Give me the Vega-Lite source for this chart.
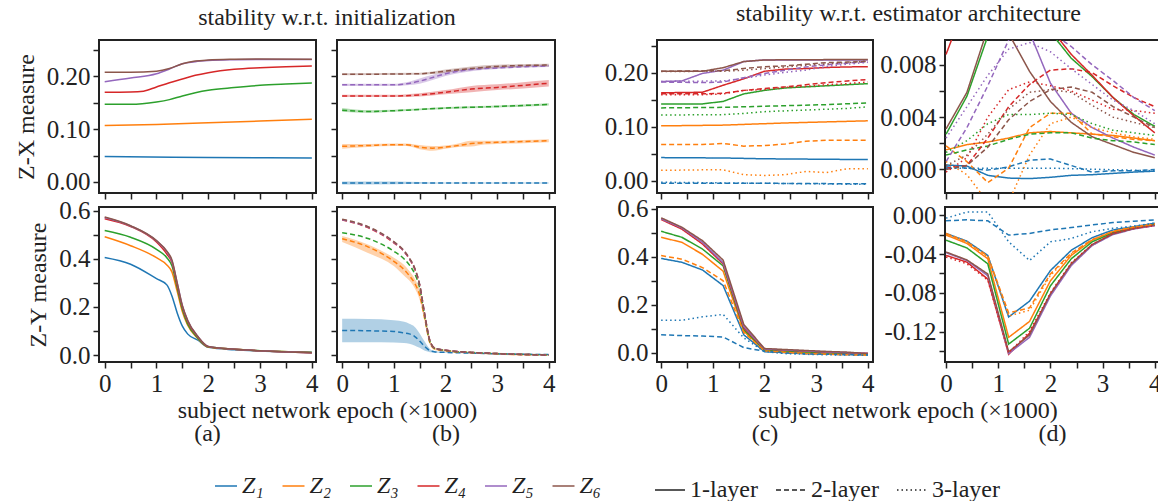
{
 "$schema": "https://vega.github.io/schema/vega-lite/v6.json",
 "padding": {"left": 13, "top": 0, "right": 0, "bottom": 0},
 "background": "white",
 "config": {
  "font": "Liberation Serif",
  "view": {"stroke": "#222", "strokeWidth": 2},
  "axis": {"labelFont": "Liberation Serif", "labelFontSize": 25, "labelColor": "#222", "titleFont": "Liberation Serif", "titleFontSize": 24, "titleFontWeight": "normal", "titleColor": "#222", "domain": false, "grid": false, "tickColor": "#222", "tickSize": 6, "tickWidth": 1.5, "labelPadding": 3, "labelFlush": false, "labelOverlap": false},
  "title": {"font": "Liberation Serif", "fontSize": 24, "fontWeight": "normal", "color": "#222"},
  "legend": {"labelFont": "Liberation Serif", "labelFontSize": 24, "labelColor": "#222"},
  "line": {"strokeWidth": 1.5}
 },
 "datasets": {
  "a1": [
   {"z":"Z₁","x":0,"y":0.048},{"z":"Z₁","x":2,"y":0.0465},{"z":"Z₁","x":4,"y":0.0455},
   {"z":"Z₂","x":0,"y":0.107},{"z":"Z₂","x":1,"y":0.109},{"z":"Z₂","x":2,"y":0.112},{"z":"Z₂","x":3,"y":0.1155},{"z":"Z₂","x":4,"y":0.119},
   {"z":"Z₃","x":0,"y":0.147},{"z":"Z₃","x":0.5,"y":0.147},{"z":"Z₃","x":1,"y":0.1515},{"z":"Z₃","x":1.25,"y":0.156},{"z":"Z₃","x":1.5,"y":0.163},{"z":"Z₃","x":1.75,"y":0.169},{"z":"Z₃","x":2,"y":0.1737},{"z":"Z₃","x":2.5,"y":0.1788},{"z":"Z₃","x":3,"y":0.183},{"z":"Z₃","x":3.5,"y":0.1855},{"z":"Z₃","x":4,"y":0.1875},
   {"z":"Z₄","x":0,"y":0.17},{"z":"Z₄","x":0.5,"y":0.1705},{"z":"Z₄","x":0.75,"y":0.172},{"z":"Z₄","x":1,"y":0.18},{"z":"Z₄","x":1.25,"y":0.188},{"z":"Z₄","x":1.5,"y":0.195},{"z":"Z₄","x":1.75,"y":0.202},{"z":"Z₄","x":2,"y":0.207},{"z":"Z₄","x":2.5,"y":0.2135},{"z":"Z₄","x":3,"y":0.2165},{"z":"Z₄","x":3.5,"y":0.2185},{"z":"Z₄","x":4,"y":0.2197},
   {"z":"Z₅","x":0,"y":0.19},{"z":"Z₅","x":0.5,"y":0.197},{"z":"Z₅","x":1,"y":0.205},{"z":"Z₅","x":1.25,"y":0.214},{"z":"Z₅","x":1.5,"y":0.224},{"z":"Z₅","x":1.75,"y":0.228},{"z":"Z₅","x":2,"y":0.23},{"z":"Z₅","x":2.5,"y":0.2315},{"z":"Z₅","x":3,"y":0.232},{"z":"Z₅","x":4,"y":0.232},
   {"z":"Z₆","x":0,"y":0.208},{"z":"Z₆","x":0.5,"y":0.208},{"z":"Z₆","x":1,"y":0.21},{"z":"Z₆","x":1.25,"y":0.215},{"z":"Z₆","x":1.5,"y":0.224},{"z":"Z₆","x":1.75,"y":0.229},{"z":"Z₆","x":2,"y":0.231},{"z":"Z₆","x":2.5,"y":0.2325},{"z":"Z₆","x":3,"y":0.233},{"z":"Z₆","x":4,"y":0.2325}
  ],
  "a2": [
   {"z":"Z₁","x":0,"y":0.406},{"z":"Z₁","x":0.5,"y":0.378},{"z":"Z₁","x":1,"y":0.318},{"z":"Z₁","x":1.2,"y":0.292},{"z":"Z₁","x":1.3,"y":0.245},{"z":"Z₁","x":1.4,"y":0.175},{"z":"Z₁","x":1.5,"y":0.12},{"z":"Z₁","x":1.6,"y":0.088},{"z":"Z₁","x":1.8,"y":0.062},{"z":"Z₁","x":2,"y":0.032},{"z":"Z₁","x":2.5,"y":0.022},{"z":"Z₁","x":3,"y":0.017},{"z":"Z₁","x":4,"y":0.012},
   {"z":"Z₂","x":0,"y":0.492},{"z":"Z₂","x":0.5,"y":0.455},{"z":"Z₂","x":1,"y":0.405},{"z":"Z₂","x":1.2,"y":0.375},{"z":"Z₂","x":1.3,"y":0.345},{"z":"Z₂","x":1.4,"y":0.265},{"z":"Z₂","x":1.5,"y":0.18},{"z":"Z₂","x":1.6,"y":0.125},{"z":"Z₂","x":1.8,"y":0.068},{"z":"Z₂","x":2,"y":0.033},{"z":"Z₂","x":2.5,"y":0.024},{"z":"Z₂","x":3,"y":0.018},{"z":"Z₂","x":4,"y":0.011},
   {"z":"Z₃","x":0,"y":0.518},{"z":"Z₃","x":0.5,"y":0.49},{"z":"Z₃","x":1,"y":0.44},{"z":"Z₃","x":1.2,"y":0.405},{"z":"Z₃","x":1.3,"y":0.37},{"z":"Z₃","x":1.4,"y":0.28},{"z":"Z₃","x":1.5,"y":0.19},{"z":"Z₃","x":1.6,"y":0.13},{"z":"Z₃","x":1.8,"y":0.07},{"z":"Z₃","x":2,"y":0.034},{"z":"Z₃","x":2.5,"y":0.024},{"z":"Z₃","x":3,"y":0.018},{"z":"Z₃","x":4,"y":0.011},
   {"z":"Z₄","x":0,"y":0.567},{"z":"Z₄","x":0.5,"y":0.535},{"z":"Z₄","x":1,"y":0.47},{"z":"Z₄","x":1.2,"y":0.42},{"z":"Z₄","x":1.3,"y":0.385},{"z":"Z₄","x":1.4,"y":0.29},{"z":"Z₄","x":1.5,"y":0.2},{"z":"Z₄","x":1.6,"y":0.14},{"z":"Z₄","x":1.8,"y":0.075},{"z":"Z₄","x":2,"y":0.035},{"z":"Z₄","x":2.5,"y":0.024},{"z":"Z₄","x":3,"y":0.018},{"z":"Z₄","x":4,"y":0.01},
   {"z":"Z₅","x":0,"y":0.572},{"z":"Z₅","x":0.5,"y":0.537},{"z":"Z₅","x":1,"y":0.475},{"z":"Z₅","x":1.2,"y":0.43},{"z":"Z₅","x":1.3,"y":0.39},{"z":"Z₅","x":1.4,"y":0.3},{"z":"Z₅","x":1.5,"y":0.205},{"z":"Z₅","x":1.6,"y":0.145},{"z":"Z₅","x":1.8,"y":0.077},{"z":"Z₅","x":2,"y":0.036},{"z":"Z₅","x":2.5,"y":0.024},{"z":"Z₅","x":3,"y":0.018},{"z":"Z₅","x":4,"y":0.01},
   {"z":"Z₆","x":0,"y":0.574},{"z":"Z₆","x":0.5,"y":0.538},{"z":"Z₆","x":1,"y":0.476},{"z":"Z₆","x":1.2,"y":0.432},{"z":"Z₆","x":1.3,"y":0.395},{"z":"Z₆","x":1.4,"y":0.3},{"z":"Z₆","x":1.5,"y":0.205},{"z":"Z₆","x":1.6,"y":0.145},{"z":"Z₆","x":1.8,"y":0.077},{"z":"Z₆","x":2,"y":0.036},{"z":"Z₆","x":2.5,"y":0.024},{"z":"Z₆","x":3,"y":0.018},{"z":"Z₆","x":4,"y":0.01}
  ],
  "b1": [
   {"z":"Z₁","x":0,"y":-0.002,"lo":-0.005,"hi":0.001},{"z":"Z₁","x":1,"y":-0.002,"lo":-0.0045,"hi":0.001},{"z":"Z₁","x":2,"y":-0.002,"lo":-0.003,"hi":-0.001},{"z":"Z₁","x":3,"y":-0.002,"lo":-0.003,"hi":-0.001},{"z":"Z₁","x":4,"y":-0.002,"lo":-0.003,"hi":-0.001},
   {"z":"Z₂","x":0,"y":0.0674,"lo":0.063,"hi":0.072},{"z":"Z₂","x":0.5,"y":0.069,"lo":0.066,"hi":0.072},{"z":"Z₂","x":1,"y":0.0706,"lo":0.068,"hi":0.073},{"z":"Z₂","x":1.25,"y":0.0705,"lo":0.068,"hi":0.073},{"z":"Z₂","x":1.5,"y":0.066,"lo":0.062,"hi":0.07},{"z":"Z₂","x":1.75,"y":0.064,"lo":0.059,"hi":0.068},{"z":"Z₂","x":2,"y":0.066,"lo":0.063,"hi":0.069},{"z":"Z₂","x":2.25,"y":0.069,"lo":0.066,"hi":0.073},{"z":"Z₂","x":2.5,"y":0.0726,"lo":0.067,"hi":0.078},{"z":"Z₂","x":2.75,"y":0.0745,"lo":0.071,"hi":0.078},{"z":"Z₂","x":3,"y":0.075,"lo":0.072,"hi":0.078},{"z":"Z₂","x":3.5,"y":0.0765,"lo":0.0735,"hi":0.0795},{"z":"Z₂","x":4,"y":0.078,"lo":0.075,"hi":0.081},
   {"z":"Z₃","x":0,"y":0.136,"lo":0.133,"hi":0.14},{"z":"Z₃","x":0.5,"y":0.1335,"lo":0.131,"hi":0.136},{"z":"Z₃","x":1,"y":0.135,"lo":0.133,"hi":0.137},{"z":"Z₃","x":2,"y":0.14,"lo":0.138,"hi":0.142},{"z":"Z₃","x":3,"y":0.143,"lo":0.141,"hi":0.145},{"z":"Z₃","x":4,"y":0.147,"lo":0.145,"hi":0.149},
   {"z":"Z₄","x":0,"y":0.163,"lo":0.161,"hi":0.165},{"z":"Z₄","x":1,"y":0.163,"lo":0.161,"hi":0.165},{"z":"Z₄","x":1.5,"y":0.165,"lo":0.162,"hi":0.168},{"z":"Z₄","x":2,"y":0.17,"lo":0.166,"hi":0.174},{"z":"Z₄","x":2.5,"y":0.176,"lo":0.17,"hi":0.182},{"z":"Z₄","x":3,"y":0.179,"lo":0.174,"hi":0.185},{"z":"Z₄","x":3.5,"y":0.183,"lo":0.177,"hi":0.189},{"z":"Z₄","x":4,"y":0.187,"lo":0.181,"hi":0.193},
   {"z":"Z₅","x":0,"y":0.184,"lo":0.182,"hi":0.186},{"z":"Z₅","x":1,"y":0.184,"lo":0.182,"hi":0.186},{"z":"Z₅","x":1.25,"y":0.186,"lo":0.183,"hi":0.189},{"z":"Z₅","x":1.5,"y":0.191,"lo":0.186,"hi":0.196},{"z":"Z₅","x":1.75,"y":0.198,"lo":0.193,"hi":0.203},{"z":"Z₅","x":2,"y":0.205,"lo":0.201,"hi":0.209},{"z":"Z₅","x":2.5,"y":0.213,"lo":0.21,"hi":0.216},{"z":"Z₅","x":3,"y":0.216,"lo":0.214,"hi":0.219},{"z":"Z₅","x":4,"y":0.22,"lo":0.218,"hi":0.222},
   {"z":"Z₆","x":0,"y":0.204,"lo":0.202,"hi":0.206},{"z":"Z₆","x":1.5,"y":0.205,"lo":0.203,"hi":0.207},{"z":"Z₆","x":2,"y":0.21,"lo":0.207,"hi":0.213},{"z":"Z₆","x":2.5,"y":0.215,"lo":0.212,"hi":0.219},{"z":"Z₆","x":3,"y":0.219,"lo":0.216,"hi":0.222},{"z":"Z₆","x":4,"y":0.2215,"lo":0.219,"hi":0.224}
  ],
  "b2": [
   {"z":"Z₁","x":0,"y":0.1025,"lo":0.053,"hi":0.151},{"z":"Z₁","x":0.5,"y":0.101,"lo":0.053,"hi":0.15},{"z":"Z₁","x":1,"y":0.098,"lo":0.052,"hi":0.145},{"z":"Z₁","x":1.2,"y":0.092,"lo":0.05,"hi":0.138},{"z":"Z₁","x":1.3,"y":0.088,"lo":0.047,"hi":0.13},{"z":"Z₁","x":1.4,"y":0.078,"lo":0.04,"hi":0.118},{"z":"Z₁","x":1.5,"y":0.058,"lo":0.03,"hi":0.09},{"z":"Z₁","x":1.6,"y":0.035,"lo":0.018,"hi":0.055},{"z":"Z₁","x":1.7,"y":0.018,"lo":0.012,"hi":0.025},{"z":"Z₁","x":1.8,"y":0.013,"lo":0.01,"hi":0.016},{"z":"Z₁","x":2,"y":0.011,"lo":0.009,"hi":0.013},{"z":"Z₁","x":2.5,"y":0.008,"lo":0.006,"hi":0.01},{"z":"Z₁","x":3,"y":0.005,"lo":0.003,"hi":0.007},{"z":"Z₁","x":4,"y":0.002,"lo":0,"hi":0.004},
   {"z":"Z₂","x":0,"y":0.484,"lo":0.47,"hi":0.495},{"z":"Z₂","x":0.5,"y":0.45,"lo":0.425,"hi":0.46},{"z":"Z₂","x":1,"y":0.39,"lo":0.37,"hi":0.405},{"z":"Z₂","x":1.2,"y":0.355,"lo":0.33,"hi":0.375},{"z":"Z₂","x":1.3,"y":0.33,"lo":0.31,"hi":0.35},{"z":"Z₂","x":1.4,"y":0.3,"lo":0.28,"hi":0.32},{"z":"Z₂","x":1.5,"y":0.25,"lo":0.23,"hi":0.27},{"z":"Z₂","x":1.6,"y":0.15,"lo":0.135,"hi":0.165},{"z":"Z₂","x":1.7,"y":0.05,"lo":0.042,"hi":0.058},{"z":"Z₂","x":1.8,"y":0.025,"lo":0.02,"hi":0.03},{"z":"Z₂","x":2,"y":0.018,"lo":0.014,"hi":0.022},{"z":"Z₂","x":2.5,"y":0.01,"lo":0.006,"hi":0.014},{"z":"Z₂","x":3,"y":0.005,"lo":0.001,"hi":0.009},{"z":"Z₂","x":4,"y":0,"lo":-0.004,"hi":0.004},
   {"z":"Z₃","x":0,"y":0.509},{"z":"Z₃","x":0.5,"y":0.485},{"z":"Z₃","x":1,"y":0.432},{"z":"Z₃","x":1.2,"y":0.4},{"z":"Z₃","x":1.3,"y":0.375},{"z":"Z₃","x":1.4,"y":0.34},{"z":"Z₃","x":1.5,"y":0.28},{"z":"Z₃","x":1.6,"y":0.16},{"z":"Z₃","x":1.7,"y":0.055},{"z":"Z₃","x":1.8,"y":0.027},{"z":"Z₃","x":2,"y":0.019},{"z":"Z₃","x":2.5,"y":0.011},{"z":"Z₃","x":3,"y":0.006},{"z":"Z₃","x":4,"y":0},
   {"z":"Z₄","x":0,"y":0.562},{"z":"Z₄","x":0.5,"y":0.53},{"z":"Z₄","x":1,"y":0.467},{"z":"Z₄","x":1.2,"y":0.43},{"z":"Z₄","x":1.3,"y":0.4},{"z":"Z₄","x":1.4,"y":0.36},{"z":"Z₄","x":1.5,"y":0.29},{"z":"Z₄","x":1.6,"y":0.165},{"z":"Z₄","x":1.7,"y":0.058},{"z":"Z₄","x":1.8,"y":0.028},{"z":"Z₄","x":2,"y":0.02},{"z":"Z₄","x":2.5,"y":0.011},{"z":"Z₄","x":3,"y":0.006},{"z":"Z₄","x":4,"y":0},
   {"z":"Z₅","x":0,"y":0.563},{"z":"Z₅","x":0.5,"y":0.532},{"z":"Z₅","x":1,"y":0.47},{"z":"Z₅","x":1.2,"y":0.432},{"z":"Z₅","x":1.3,"y":0.402},{"z":"Z₅","x":1.4,"y":0.362},{"z":"Z₅","x":1.5,"y":0.292},{"z":"Z₅","x":1.6,"y":0.166},{"z":"Z₅","x":1.7,"y":0.058},{"z":"Z₅","x":1.8,"y":0.028},{"z":"Z₅","x":2,"y":0.02},{"z":"Z₅","x":2.5,"y":0.011},{"z":"Z₅","x":3,"y":0.006},{"z":"Z₅","x":4,"y":0},
   {"z":"Z₆","x":0,"y":0.565},{"z":"Z₆","x":0.5,"y":0.534},{"z":"Z₆","x":1,"y":0.472},{"z":"Z₆","x":1.2,"y":0.434},{"z":"Z₆","x":1.3,"y":0.404},{"z":"Z₆","x":1.4,"y":0.364},{"z":"Z₆","x":1.5,"y":0.294},{"z":"Z₆","x":1.6,"y":0.167},{"z":"Z₆","x":1.7,"y":0.059},{"z":"Z₆","x":1.8,"y":0.028},{"z":"Z₆","x":2,"y":0.02},{"z":"Z₆","x":2.5,"y":0.011},{"z":"Z₆","x":3,"y":0.006},{"z":"Z₆","x":4,"y":0}
  ],
  "c1": [
   {"z":"Z₁","l":"1-layer","x":0,"y":0.0427},{"z":"Z₁","l":"1-layer","x":1.2,"y":0.042},{"z":"Z₁","l":"1-layer","x":2,"y":0.0405},{"z":"Z₁","l":"1-layer","x":4,"y":0.039},
   {"z":"Z₂","l":"1-layer","x":0,"y":0.1016},{"z":"Z₂","l":"1-layer","x":1.2,"y":0.103},{"z":"Z₂","l":"1-layer","x":2.4,"y":0.107},{"z":"Z₂","l":"1-layer","x":3.2,"y":0.109},{"z":"Z₂","l":"1-layer","x":4,"y":0.111},
   {"z":"Z₃","l":"1-layer","x":0,"y":0.1424},{"z":"Z₃","l":"1-layer","x":0.8,"y":0.1424},{"z":"Z₃","l":"1-layer","x":1.2,"y":0.147},{"z":"Z₃","l":"1-layer","x":1.6,"y":0.161},{"z":"Z₃","l":"1-layer","x":2,"y":0.1675},{"z":"Z₃","l":"1-layer","x":2.4,"y":0.172},{"z":"Z₃","l":"1-layer","x":2.8,"y":0.174},{"z":"Z₃","l":"1-layer","x":3.2,"y":0.176},{"z":"Z₃","l":"1-layer","x":3.6,"y":0.178},{"z":"Z₃","l":"1-layer","x":4,"y":0.18},
   {"z":"Z₄","l":"1-layer","x":0,"y":0.163},{"z":"Z₄","l":"1-layer","x":0.8,"y":0.164},{"z":"Z₄","l":"1-layer","x":1.2,"y":0.177},{"z":"Z₄","l":"1-layer","x":1.6,"y":0.189},{"z":"Z₄","l":"1-layer","x":2,"y":0.203},{"z":"Z₄","l":"1-layer","x":2.4,"y":0.207},{"z":"Z₄","l":"1-layer","x":2.8,"y":0.208},{"z":"Z₄","l":"1-layer","x":3.2,"y":0.21},{"z":"Z₄","l":"1-layer","x":3.6,"y":0.211},{"z":"Z₄","l":"1-layer","x":4,"y":0.2115},
   {"z":"Z₅","l":"1-layer","x":0,"y":0.184},{"z":"Z₅","l":"1-layer","x":0.4,"y":0.185},{"z":"Z₅","l":"1-layer","x":0.8,"y":0.199},{"z":"Z₅","l":"1-layer","x":1.2,"y":0.205},{"z":"Z₅","l":"1-layer","x":1.6,"y":0.221},{"z":"Z₅","l":"1-layer","x":2,"y":0.224},{"z":"Z₅","l":"1-layer","x":4,"y":0.224},
   {"z":"Z₆","l":"1-layer","x":0,"y":0.203},{"z":"Z₆","l":"1-layer","x":0.8,"y":0.203},{"z":"Z₆","l":"1-layer","x":1.2,"y":0.2096},{"z":"Z₆","l":"1-layer","x":1.6,"y":0.221},{"z":"Z₆","l":"1-layer","x":2,"y":0.224},{"z":"Z₆","l":"1-layer","x":4,"y":0.225},
   {"z":"Z₁","l":"2-layer","x":0,"y":-0.005},{"z":"Z₁","l":"2-layer","x":2,"y":-0.005},{"z":"Z₁","l":"2-layer","x":4,"y":-0.006},
   {"z":"Z₂","l":"2-layer","x":0,"y":0.067},{"z":"Z₂","l":"2-layer","x":0.8,"y":0.067},{"z":"Z₂","l":"2-layer","x":1.2,"y":0.069},{"z":"Z₂","l":"2-layer","x":1.6,"y":0.064},{"z":"Z₂","l":"2-layer","x":2,"y":0.065},{"z":"Z₂","l":"2-layer","x":2.4,"y":0.068},{"z":"Z₂","l":"2-layer","x":2.8,"y":0.073},{"z":"Z₂","l":"2-layer","x":3.2,"y":0.075},{"z":"Z₂","l":"2-layer","x":4,"y":0.075},
   {"z":"Z₃","l":"2-layer","x":0,"y":0.135},{"z":"Z₃","l":"2-layer","x":1.2,"y":0.136},{"z":"Z₃","l":"2-layer","x":2,"y":0.138},{"z":"Z₃","l":"2-layer","x":3.2,"y":0.141},{"z":"Z₃","l":"2-layer","x":4,"y":0.1443},
   {"z":"Z₄","l":"2-layer","x":0,"y":0.1612},{"z":"Z₄","l":"2-layer","x":0.8,"y":0.1612},{"z":"Z₄","l":"2-layer","x":1.2,"y":0.162},{"z":"Z₄","l":"2-layer","x":1.6,"y":0.1675},{"z":"Z₄","l":"2-layer","x":2,"y":0.171},{"z":"Z₄","l":"2-layer","x":2.4,"y":0.174},{"z":"Z₄","l":"2-layer","x":2.8,"y":0.178},{"z":"Z₄","l":"2-layer","x":3.2,"y":0.182},{"z":"Z₄","l":"2-layer","x":3.6,"y":0.185},{"z":"Z₄","l":"2-layer","x":4,"y":0.1876},
   {"z":"Z₅","l":"2-layer","x":0,"y":0.183},{"z":"Z₅","l":"2-layer","x":0.8,"y":0.182},{"z":"Z₅","l":"2-layer","x":1.2,"y":0.183},{"z":"Z₅","l":"2-layer","x":1.6,"y":0.191},{"z":"Z₅","l":"2-layer","x":2,"y":0.199},{"z":"Z₅","l":"2-layer","x":2.4,"y":0.205},{"z":"Z₅","l":"2-layer","x":2.8,"y":0.211},{"z":"Z₅","l":"2-layer","x":3.2,"y":0.215},{"z":"Z₅","l":"2-layer","x":3.6,"y":0.218},{"z":"Z₅","l":"2-layer","x":4,"y":0.2206},
   {"z":"Z₆","l":"2-layer","x":0,"y":0.203},{"z":"Z₆","l":"2-layer","x":1.2,"y":0.204},{"z":"Z₆","l":"2-layer","x":1.6,"y":0.208},{"z":"Z₆","l":"2-layer","x":2,"y":0.2115},{"z":"Z₆","l":"2-layer","x":2.4,"y":0.213},{"z":"Z₆","l":"2-layer","x":2.8,"y":0.216},{"z":"Z₆","l":"2-layer","x":3.2,"y":0.219},{"z":"Z₆","l":"2-layer","x":3.6,"y":0.22},{"z":"Z₆","l":"2-layer","x":4,"y":0.221},
   {"z":"Z₁","l":"3-layer","x":0,"y":-0.003},{"z":"Z₁","l":"3-layer","x":2,"y":-0.005},{"z":"Z₁","l":"3-layer","x":4,"y":-0.007},
   {"z":"Z₂","l":"3-layer","x":0,"y":0.019},{"z":"Z₂","l":"3-layer","x":0.8,"y":0.02},{"z":"Z₂","l":"3-layer","x":1.2,"y":0.02},{"z":"Z₂","l":"3-layer","x":1.6,"y":0.011},{"z":"Z₂","l":"3-layer","x":2,"y":0.0095},{"z":"Z₂","l":"3-layer","x":2.4,"y":0.011},{"z":"Z₂","l":"3-layer","x":2.8,"y":0.017},{"z":"Z₂","l":"3-layer","x":3.2,"y":0.015},{"z":"Z₂","l":"3-layer","x":3.6,"y":0.022},{"z":"Z₂","l":"3-layer","x":4,"y":0.022},
   {"z":"Z₃","l":"3-layer","x":0,"y":0.1217},{"z":"Z₃","l":"3-layer","x":1.2,"y":0.1225},{"z":"Z₃","l":"3-layer","x":1.6,"y":0.1248},{"z":"Z₃","l":"3-layer","x":2,"y":0.128},{"z":"Z₃","l":"3-layer","x":2.8,"y":0.131},{"z":"Z₃","l":"3-layer","x":3.6,"y":0.134},{"z":"Z₃","l":"3-layer","x":4,"y":0.137},
   {"z":"Z₄","l":"3-layer","x":0,"y":0.1594},{"z":"Z₄","l":"3-layer","x":0.8,"y":0.1594},{"z":"Z₄","l":"3-layer","x":1.2,"y":0.161},{"z":"Z₄","l":"3-layer","x":1.6,"y":0.1675},{"z":"Z₄","l":"3-layer","x":2,"y":0.169},{"z":"Z₄","l":"3-layer","x":2.4,"y":0.173},{"z":"Z₄","l":"3-layer","x":2.8,"y":0.175},{"z":"Z₄","l":"3-layer","x":3.2,"y":0.178},{"z":"Z₄","l":"3-layer","x":3.6,"y":0.18},{"z":"Z₄","l":"3-layer","x":4,"y":0.183},
   {"z":"Z₅","l":"3-layer","x":0,"y":0.184},{"z":"Z₅","l":"3-layer","x":1.2,"y":0.185},{"z":"Z₅","l":"3-layer","x":1.6,"y":0.19},{"z":"Z₅","l":"3-layer","x":2,"y":0.196},{"z":"Z₅","l":"3-layer","x":2.4,"y":0.201},{"z":"Z₅","l":"3-layer","x":2.8,"y":0.205},{"z":"Z₅","l":"3-layer","x":3.2,"y":0.212},{"z":"Z₅","l":"3-layer","x":3.6,"y":0.216},{"z":"Z₅","l":"3-layer","x":4,"y":0.2196},
   {"z":"Z₆","l":"3-layer","x":0,"y":0.2025},{"z":"Z₆","l":"3-layer","x":1.2,"y":0.203},{"z":"Z₆","l":"3-layer","x":1.6,"y":0.205},{"z":"Z₆","l":"3-layer","x":2,"y":0.208},{"z":"Z₆","l":"3-layer","x":2.8,"y":0.214},{"z":"Z₆","l":"3-layer","x":3.6,"y":0.219},{"z":"Z₆","l":"3-layer","x":4,"y":0.222}
  ],
  "c2": [
   {"z":"Z₁","l":"1-layer","x":0,"y":0.393},{"z":"Z₁","l":"1-layer","x":0.4,"y":0.377},{"z":"Z₁","l":"1-layer","x":0.8,"y":0.345},{"z":"Z₁","l":"1-layer","x":1.2,"y":0.28},{"z":"Z₁","l":"1-layer","x":1.6,"y":0.075},{"z":"Z₁","l":"1-layer","x":2,"y":0.005},{"z":"Z₁","l":"1-layer","x":2.4,"y":0.001},{"z":"Z₁","l":"1-layer","x":2.8,"y":-0.003},{"z":"Z₁","l":"1-layer","x":3.2,"y":-0.005},{"z":"Z₁","l":"1-layer","x":3.6,"y":-0.007},{"z":"Z₁","l":"1-layer","x":4,"y":-0.008},
   {"z":"Z₂","l":"1-layer","x":0,"y":0.481},{"z":"Z₂","l":"1-layer","x":0.4,"y":0.46},{"z":"Z₂","l":"1-layer","x":0.8,"y":0.41},{"z":"Z₂","l":"1-layer","x":1.2,"y":0.34},{"z":"Z₂","l":"1-layer","x":1.6,"y":0.09},{"z":"Z₂","l":"1-layer","x":2,"y":0.01},{"z":"Z₂","l":"1-layer","x":2.4,"y":0.005},{"z":"Z₂","l":"1-layer","x":2.8,"y":0},{"z":"Z₂","l":"1-layer","x":3.2,"y":-0.002},{"z":"Z₂","l":"1-layer","x":3.6,"y":-0.004},{"z":"Z₂","l":"1-layer","x":4,"y":-0.005},
   {"z":"Z₃","l":"1-layer","x":0,"y":0.506},{"z":"Z₃","l":"1-layer","x":0.4,"y":0.481},{"z":"Z₃","l":"1-layer","x":0.8,"y":0.432},{"z":"Z₃","l":"1-layer","x":1.2,"y":0.362},{"z":"Z₃","l":"1-layer","x":1.6,"y":0.097},{"z":"Z₃","l":"1-layer","x":2,"y":0.012},{"z":"Z₃","l":"1-layer","x":2.4,"y":0.008},{"z":"Z₃","l":"1-layer","x":2.8,"y":0.004},{"z":"Z₃","l":"1-layer","x":3.2,"y":0},{"z":"Z₃","l":"1-layer","x":3.6,"y":-0.002},{"z":"Z₃","l":"1-layer","x":4,"y":-0.004},
   {"z":"Z₄","l":"1-layer","x":0,"y":0.555},{"z":"Z₄","l":"1-layer","x":0.4,"y":0.515},{"z":"Z₄","l":"1-layer","x":0.8,"y":0.453},{"z":"Z₄","l":"1-layer","x":1.2,"y":0.37},{"z":"Z₄","l":"1-layer","x":1.6,"y":0.104},{"z":"Z₄","l":"1-layer","x":2,"y":0.016},{"z":"Z₄","l":"1-layer","x":2.4,"y":0.011},{"z":"Z₄","l":"1-layer","x":2.8,"y":0.007},{"z":"Z₄","l":"1-layer","x":3.2,"y":0.003},{"z":"Z₄","l":"1-layer","x":3.6,"y":0},{"z":"Z₄","l":"1-layer","x":4,"y":-0.002},
   {"z":"Z₅","l":"1-layer","x":0,"y":0.558},{"z":"Z₅","l":"1-layer","x":0.4,"y":0.52},{"z":"Z₅","l":"1-layer","x":0.8,"y":0.46},{"z":"Z₅","l":"1-layer","x":1.2,"y":0.375},{"z":"Z₅","l":"1-layer","x":1.6,"y":0.11},{"z":"Z₅","l":"1-layer","x":2,"y":0.016},{"z":"Z₅","l":"1-layer","x":2.4,"y":0.012},{"z":"Z₅","l":"1-layer","x":2.8,"y":0.008},{"z":"Z₅","l":"1-layer","x":3.2,"y":0.004},{"z":"Z₅","l":"1-layer","x":3.6,"y":0.001},{"z":"Z₅","l":"1-layer","x":4,"y":-0.002},
   {"z":"Z₆","l":"1-layer","x":0,"y":0.562},{"z":"Z₆","l":"1-layer","x":0.4,"y":0.523},{"z":"Z₆","l":"1-layer","x":0.8,"y":0.467},{"z":"Z₆","l":"1-layer","x":1.2,"y":0.386},{"z":"Z₆","l":"1-layer","x":1.6,"y":0.118},{"z":"Z₆","l":"1-layer","x":2,"y":0.018},{"z":"Z₆","l":"1-layer","x":2.4,"y":0.014},{"z":"Z₆","l":"1-layer","x":2.8,"y":0.01},{"z":"Z₆","l":"1-layer","x":3.2,"y":0.006},{"z":"Z₆","l":"1-layer","x":3.6,"y":0.003},{"z":"Z₆","l":"1-layer","x":4,"y":-0.003},
   {"z":"Z₁","l":"2-layer","x":0,"y":0.075},{"z":"Z₁","l":"2-layer","x":0.4,"y":0.072},{"z":"Z₁","l":"2-layer","x":0.8,"y":0.07},{"z":"Z₁","l":"2-layer","x":1.2,"y":0.066},{"z":"Z₁","l":"2-layer","x":1.6,"y":0.022},{"z":"Z₁","l":"2-layer","x":2,"y":0.007},{"z":"Z₁","l":"2-layer","x":2.4,"y":0},{"z":"Z₁","l":"2-layer","x":2.8,"y":-0.004},{"z":"Z₁","l":"2-layer","x":3.2,"y":-0.006},{"z":"Z₁","l":"2-layer","x":3.6,"y":-0.007},{"z":"Z₁","l":"2-layer","x":4,"y":-0.008},
   {"z":"Z₂","l":"2-layer","x":0,"y":0.405},{"z":"Z₂","l":"2-layer","x":0.4,"y":0.39},{"z":"Z₂","l":"2-layer","x":0.8,"y":0.355},{"z":"Z₂","l":"2-layer","x":1.2,"y":0.3},{"z":"Z₂","l":"2-layer","x":1.6,"y":0.085},{"z":"Z₂","l":"2-layer","x":2,"y":0.008},{"z":"Z₂","l":"2-layer","x":2.4,"y":0.002},{"z":"Z₂","l":"2-layer","x":2.8,"y":-0.003},{"z":"Z₂","l":"2-layer","x":3.2,"y":-0.006},{"z":"Z₂","l":"2-layer","x":3.6,"y":-0.008},{"z":"Z₂","l":"2-layer","x":4,"y":-0.01},
   {"z":"Z₁","l":"3-layer","x":0,"y":0.136},{"z":"Z₁","l":"3-layer","x":0.4,"y":0.136},{"z":"Z₁","l":"3-layer","x":0.8,"y":0.15},{"z":"Z₁","l":"3-layer","x":1.2,"y":0.16},{"z":"Z₁","l":"3-layer","x":1.6,"y":0.062},{"z":"Z₁","l":"3-layer","x":2,"y":0.005},{"z":"Z₁","l":"3-layer","x":2.4,"y":-0.003},{"z":"Z₁","l":"3-layer","x":2.8,"y":-0.006},{"z":"Z₁","l":"3-layer","x":3.2,"y":-0.008},{"z":"Z₁","l":"3-layer","x":3.6,"y":-0.009},{"z":"Z₁","l":"3-layer","x":4,"y":-0.01}
  ],
  "d1": [
   {"z":"Z₁","l":"1-layer","x":0,"y":0.00034},{"z":"Z₁","l":"1-layer","x":0.4,"y":0.00026},{"z":"Z₁","l":"1-layer","x":0.8,"y":-0.00045},{"z":"Z₁","l":"1-layer","x":1.2,"y":-0.00066},{"z":"Z₁","l":"1-layer","x":1.6,"y":-0.0007},{"z":"Z₁","l":"1-layer","x":2,"y":-0.0006},{"z":"Z₁","l":"1-layer","x":2.4,"y":-0.00045},{"z":"Z₁","l":"1-layer","x":2.8,"y":-0.0004},{"z":"Z₁","l":"1-layer","x":3.2,"y":-0.0003},{"z":"Z₁","l":"1-layer","x":3.6,"y":-0.0002},{"z":"Z₁","l":"1-layer","x":4,"y":-0.00013},
   {"z":"Z₂","l":"1-layer","x":0,"y":0.0015},{"z":"Z₂","l":"1-layer","x":0.4,"y":0.0019},{"z":"Z₂","l":"1-layer","x":0.8,"y":0.0021},{"z":"Z₂","l":"1-layer","x":1.2,"y":0.0024},{"z":"Z₂","l":"1-layer","x":1.6,"y":0.0028},{"z":"Z₂","l":"1-layer","x":2,"y":0.0029},{"z":"Z₂","l":"1-layer","x":2.4,"y":0.0028},{"z":"Z₂","l":"1-layer","x":2.8,"y":0.0027},{"z":"Z₂","l":"1-layer","x":3.2,"y":0.0026},{"z":"Z₂","l":"1-layer","x":3.6,"y":0.0024},{"z":"Z₂","l":"1-layer","x":4,"y":0.0022},
   {"z":"Z₃","l":"1-layer","x":0,"y":0.0027},{"z":"Z₃","l":"1-layer","x":0.4,"y":0.0056},{"z":"Z₃","l":"1-layer","x":0.8,"y":0.0102},{"z":"Z₃","l":"1-layer","x":1.2,"y":0.013},{"z":"Z₃","l":"1-layer","x":1.6,"y":0.0125},{"z":"Z₃","l":"1-layer","x":2,"y":0.0105},{"z":"Z₃","l":"1-layer","x":2.4,"y":0.0085},{"z":"Z₃","l":"1-layer","x":2.8,"y":0.0071},{"z":"Z₃","l":"1-layer","x":3.2,"y":0.0055},{"z":"Z₃","l":"1-layer","x":3.6,"y":0.0042},{"z":"Z₃","l":"1-layer","x":4,"y":0.0033},
   {"z":"Z₄","l":"1-layer","x":0,"y":0.0088},{"z":"Z₄","l":"1-layer","x":0.4,"y":0.013},{"z":"Z₄","l":"1-layer","x":0.8,"y":0.016},{"z":"Z₄","l":"1-layer","x":1.2,"y":0.016},{"z":"Z₄","l":"1-layer","x":1.6,"y":0.014},{"z":"Z₄","l":"1-layer","x":2,"y":0.0108},{"z":"Z₄","l":"1-layer","x":2.4,"y":0.0088},{"z":"Z₄","l":"1-layer","x":2.8,"y":0.0072},{"z":"Z₄","l":"1-layer","x":3.2,"y":0.0055},{"z":"Z₄","l":"1-layer","x":3.6,"y":0.0041},{"z":"Z₄","l":"1-layer","x":4,"y":0.0028},
   {"z":"Z₅","l":"1-layer","x":0,"y":0.0105},{"z":"Z₅","l":"1-layer","x":0.4,"y":0.014},{"z":"Z₅","l":"1-layer","x":0.8,"y":0.016},{"z":"Z₅","l":"1-layer","x":1.2,"y":0.015},{"z":"Z₅","l":"1-layer","x":1.6,"y":0.0105},{"z":"Z₅","l":"1-layer","x":2,"y":0.0066},{"z":"Z₅","l":"1-layer","x":2.4,"y":0.0043},{"z":"Z₅","l":"1-layer","x":2.8,"y":0.0032},{"z":"Z₅","l":"1-layer","x":3.2,"y":0.0024},{"z":"Z₅","l":"1-layer","x":3.6,"y":0.0017},{"z":"Z₅","l":"1-layer","x":4,"y":0.0011},
   {"z":"Z₆","l":"1-layer","x":0,"y":0.0031},{"z":"Z₆","l":"1-layer","x":0.4,"y":0.0059},{"z":"Z₆","l":"1-layer","x":0.8,"y":0.0108},{"z":"Z₆","l":"1-layer","x":1.2,"y":0.0104},{"z":"Z₆","l":"1-layer","x":1.6,"y":0.0075},{"z":"Z₆","l":"1-layer","x":2,"y":0.0052},{"z":"Z₆","l":"1-layer","x":2.4,"y":0.0036},{"z":"Z₆","l":"1-layer","x":2.8,"y":0.0025},{"z":"Z₆","l":"1-layer","x":3.2,"y":0.0019},{"z":"Z₆","l":"1-layer","x":3.6,"y":0.0013},{"z":"Z₆","l":"1-layer","x":4,"y":0.0009},
   {"z":"Z₁","l":"2-layer","x":0,"y":0.0002},{"z":"Z₁","l":"2-layer","x":0.4,"y":0.0001},{"z":"Z₁","l":"2-layer","x":0.8,"y":-0.00005},{"z":"Z₁","l":"2-layer","x":1.2,"y":0.0002},{"z":"Z₁","l":"2-layer","x":1.6,"y":0.0007},{"z":"Z₁","l":"2-layer","x":2,"y":0.0008},{"z":"Z₁","l":"2-layer","x":2.4,"y":0.0003},{"z":"Z₁","l":"2-layer","x":2.8,"y":-0.0002},{"z":"Z₁","l":"2-layer","x":3.2,"y":-0.0001},{"z":"Z₁","l":"2-layer","x":3.6,"y":-0.0001},{"z":"Z₁","l":"2-layer","x":4,"y":0},
   {"z":"Z₂","l":"2-layer","x":0,"y":0.0018},{"z":"Z₂","l":"2-layer","x":0.4,"y":0.0006},{"z":"Z₂","l":"2-layer","x":0.8,"y":-0.001},{"z":"Z₂","l":"2-layer","x":1.2,"y":0.0001},{"z":"Z₂","l":"2-layer","x":1.6,"y":0.0032},{"z":"Z₂","l":"2-layer","x":2,"y":0.0043},{"z":"Z₂","l":"2-layer","x":2.4,"y":0.0043},{"z":"Z₂","l":"2-layer","x":2.8,"y":0.0027},{"z":"Z₂","l":"2-layer","x":3.2,"y":0.0025},{"z":"Z₂","l":"2-layer","x":3.6,"y":0.0023},{"z":"Z₂","l":"2-layer","x":4,"y":0.0022},
   {"z":"Z₃","l":"2-layer","x":0,"y":0.0011},{"z":"Z₃","l":"2-layer","x":0.4,"y":0.0015},{"z":"Z₃","l":"2-layer","x":0.8,"y":0.0018},{"z":"Z₃","l":"2-layer","x":1.2,"y":0.0023},{"z":"Z₃","l":"2-layer","x":1.6,"y":0.0027},{"z":"Z₃","l":"2-layer","x":2,"y":0.0028},{"z":"Z₃","l":"2-layer","x":2.4,"y":0.0028},{"z":"Z₃","l":"2-layer","x":2.8,"y":0.0024},{"z":"Z₃","l":"2-layer","x":3.2,"y":0.0022},{"z":"Z₃","l":"2-layer","x":3.6,"y":0.0021},{"z":"Z₃","l":"2-layer","x":4,"y":0.0019},
   {"z":"Z₄","l":"2-layer","x":0,"y":0.0001},{"z":"Z₄","l":"2-layer","x":0.4,"y":0.0003},{"z":"Z₄","l":"2-layer","x":0.8,"y":0.0024},{"z":"Z₄","l":"2-layer","x":1.2,"y":0.0048},{"z":"Z₄","l":"2-layer","x":1.6,"y":0.0065},{"z":"Z₄","l":"2-layer","x":2,"y":0.0076},{"z":"Z₄","l":"2-layer","x":2.4,"y":0.0077},{"z":"Z₄","l":"2-layer","x":2.8,"y":0.0074},{"z":"Z₄","l":"2-layer","x":3.2,"y":0.0064},{"z":"Z₄","l":"2-layer","x":3.6,"y":0.0055},{"z":"Z₄","l":"2-layer","x":4,"y":0.0048},
   {"z":"Z₅","l":"2-layer","x":0,"y":0.0006},{"z":"Z₅","l":"2-layer","x":0.4,"y":0.0032},{"z":"Z₅","l":"2-layer","x":0.8,"y":0.0064},{"z":"Z₅","l":"2-layer","x":1.2,"y":0.0099},{"z":"Z₅","l":"2-layer","x":1.6,"y":0.011},{"z":"Z₅","l":"2-layer","x":2,"y":0.0105},{"z":"Z₅","l":"2-layer","x":2.4,"y":0.0094},{"z":"Z₅","l":"2-layer","x":2.8,"y":0.008},{"z":"Z₅","l":"2-layer","x":3.2,"y":0.0068},{"z":"Z₅","l":"2-layer","x":3.6,"y":0.0055},{"z":"Z₅","l":"2-layer","x":4,"y":0.0045},
   {"z":"Z₆","l":"2-layer","x":0,"y":0},{"z":"Z₆","l":"2-layer","x":0.4,"y":0.0003},{"z":"Z₆","l":"2-layer","x":0.8,"y":0.0017},{"z":"Z₆","l":"2-layer","x":1.2,"y":0.0038},{"z":"Z₆","l":"2-layer","x":1.6,"y":0.0052},{"z":"Z₆","l":"2-layer","x":2,"y":0.0061},{"z":"Z₆","l":"2-layer","x":2.4,"y":0.0063},{"z":"Z₆","l":"2-layer","x":2.8,"y":0.0059},{"z":"Z₆","l":"2-layer","x":3.2,"y":0.0048},{"z":"Z₆","l":"2-layer","x":3.6,"y":0.004},{"z":"Z₆","l":"2-layer","x":4,"y":0.0032},
   {"z":"Z₁","l":"3-layer","x":0,"y":0.0001},{"z":"Z₁","l":"3-layer","x":2,"y":0.0001},{"z":"Z₁","l":"3-layer","x":4,"y":-0.0001},
   {"z":"Z₂","l":"3-layer","x":0,"y":0.0006},{"z":"Z₂","l":"3-layer","x":0.4,"y":-0.0004},{"z":"Z₂","l":"3-layer","x":0.8,"y":-0.0025},{"z":"Z₂","l":"3-layer","x":1.2,"y":-0.0025},{"z":"Z₂","l":"3-layer","x":1.6,"y":0.0011},{"z":"Z₂","l":"3-layer","x":2,"y":0.0035},{"z":"Z₂","l":"3-layer","x":2.4,"y":0.004},{"z":"Z₂","l":"3-layer","x":2.8,"y":0.0032},{"z":"Z₂","l":"3-layer","x":3.2,"y":0.0028},{"z":"Z₂","l":"3-layer","x":3.6,"y":0.0025},{"z":"Z₂","l":"3-layer","x":4,"y":0.0023},
   {"z":"Z₃","l":"3-layer","x":0,"y":0.0013},{"z":"Z₃","l":"3-layer","x":0.4,"y":0.0022},{"z":"Z₃","l":"3-layer","x":0.8,"y":0.0035},{"z":"Z₃","l":"3-layer","x":1.2,"y":0.0042},{"z":"Z₃","l":"3-layer","x":1.6,"y":0.0042},{"z":"Z₃","l":"3-layer","x":2,"y":0.0043},{"z":"Z₃","l":"3-layer","x":2.4,"y":0.0042},{"z":"Z₃","l":"3-layer","x":2.8,"y":0.0035},{"z":"Z₃","l":"3-layer","x":3.2,"y":0.003},{"z":"Z₃","l":"3-layer","x":3.6,"y":0.0028},{"z":"Z₃","l":"3-layer","x":4,"y":0.0026},
   {"z":"Z₄","l":"3-layer","x":0,"y":-0.0002},{"z":"Z₄","l":"3-layer","x":0.4,"y":0.0009},{"z":"Z₄","l":"3-layer","x":0.8,"y":0.004},{"z":"Z₄","l":"3-layer","x":1.2,"y":0.0061},{"z":"Z₄","l":"3-layer","x":1.6,"y":0.0067},{"z":"Z₄","l":"3-layer","x":2,"y":0.0064},{"z":"Z₄","l":"3-layer","x":2.4,"y":0.006},{"z":"Z₄","l":"3-layer","x":2.8,"y":0.0053},{"z":"Z₄","l":"3-layer","x":3.2,"y":0.0046},{"z":"Z₄","l":"3-layer","x":3.6,"y":0.0045},{"z":"Z₄","l":"3-layer","x":4,"y":0.0043},
   {"z":"Z₅","l":"3-layer","x":0,"y":0.0024},{"z":"Z₅","l":"3-layer","x":0.4,"y":0.0048},{"z":"Z₅","l":"3-layer","x":0.8,"y":0.0072},{"z":"Z₅","l":"3-layer","x":1.2,"y":0.0092},{"z":"Z₅","l":"3-layer","x":1.6,"y":0.0097},{"z":"Z₅","l":"3-layer","x":2,"y":0.009},{"z":"Z₅","l":"3-layer","x":2.4,"y":0.0077},{"z":"Z₅","l":"3-layer","x":2.8,"y":0.0065},{"z":"Z₅","l":"3-layer","x":3.2,"y":0.0053},{"z":"Z₅","l":"3-layer","x":3.6,"y":0.0045},{"z":"Z₅","l":"3-layer","x":4,"y":0.0035},
   {"z":"Z₆","l":"3-layer","x":0,"y":0.0003},{"z":"Z₆","l":"3-layer","x":0.4,"y":0.0011},{"z":"Z₆","l":"3-layer","x":0.8,"y":0.0027},{"z":"Z₆","l":"3-layer","x":1.2,"y":0.0046},{"z":"Z₆","l":"3-layer","x":1.6,"y":0.0059},{"z":"Z₆","l":"3-layer","x":2,"y":0.0061},{"z":"Z₆","l":"3-layer","x":2.4,"y":0.0059},{"z":"Z₆","l":"3-layer","x":2.8,"y":0.0049},{"z":"Z₆","l":"3-layer","x":3.2,"y":0.004},{"z":"Z₆","l":"3-layer","x":3.6,"y":0.0036},{"z":"Z₆","l":"3-layer","x":4,"y":0.0032}
  ],
  "d2": [
   {"z":"Z₁","l":"1-layer","x":0,"y":-0.0186},{"z":"Z₁","l":"1-layer","x":0.4,"y":-0.0266},{"z":"Z₁","l":"1-layer","x":0.8,"y":-0.0413},{"z":"Z₁","l":"1-layer","x":1.2,"y":-0.105},{"z":"Z₁","l":"1-layer","x":1.6,"y":-0.0886},{"z":"Z₁","l":"1-layer","x":2,"y":-0.057},{"z":"Z₁","l":"1-layer","x":2.4,"y":-0.036},{"z":"Z₁","l":"1-layer","x":2.8,"y":-0.023},{"z":"Z₁","l":"1-layer","x":3.2,"y":-0.015},{"z":"Z₁","l":"1-layer","x":3.6,"y":-0.0116},{"z":"Z₁","l":"1-layer","x":4,"y":-0.008},
   {"z":"Z₂","l":"1-layer","x":0,"y":-0.0203},{"z":"Z₂","l":"1-layer","x":0.4,"y":-0.029},{"z":"Z₂","l":"1-layer","x":0.8,"y":-0.0448},{"z":"Z₂","l":"1-layer","x":1.2,"y":-0.126},{"z":"Z₂","l":"1-layer","x":1.6,"y":-0.1096},{"z":"Z₂","l":"1-layer","x":2,"y":-0.0676},{"z":"Z₂","l":"1-layer","x":2.4,"y":-0.0413},{"z":"Z₂","l":"1-layer","x":2.8,"y":-0.0256},{"z":"Z₂","l":"1-layer","x":3.2,"y":-0.0168},{"z":"Z₂","l":"1-layer","x":3.6,"y":-0.0125},{"z":"Z₂","l":"1-layer","x":4,"y":-0.0091},
   {"z":"Z₃","l":"1-layer","x":0,"y":-0.0256},{"z":"Z₃","l":"1-layer","x":0.4,"y":-0.0336},{"z":"Z₃","l":"1-layer","x":0.8,"y":-0.05},{"z":"Z₃","l":"1-layer","x":1.2,"y":-0.133},{"z":"Z₃","l":"1-layer","x":1.6,"y":-0.1166},{"z":"Z₃","l":"1-layer","x":2,"y":-0.0728},{"z":"Z₃","l":"1-layer","x":2.4,"y":-0.0448},{"z":"Z₃","l":"1-layer","x":2.8,"y":-0.0273},{"z":"Z₃","l":"1-layer","x":3.2,"y":-0.0179},{"z":"Z₃","l":"1-layer","x":3.6,"y":-0.013},{"z":"Z₃","l":"1-layer","x":4,"y":-0.0098},
   {"z":"Z₄","l":"1-layer","x":0,"y":-0.0413},{"z":"Z₄","l":"1-layer","x":0.4,"y":-0.0483},{"z":"Z₄","l":"1-layer","x":0.8,"y":-0.0658},{"z":"Z₄","l":"1-layer","x":1.2,"y":-0.1435},{"z":"Z₄","l":"1-layer","x":1.6,"y":-0.1218},{"z":"Z₄","l":"1-layer","x":2,"y":-0.0816},{"z":"Z₄","l":"1-layer","x":2.4,"y":-0.05},{"z":"Z₄","l":"1-layer","x":2.8,"y":-0.0308},{"z":"Z₄","l":"1-layer","x":3.2,"y":-0.0186},{"z":"Z₄","l":"1-layer","x":3.6,"y":-0.0135},{"z":"Z₄","l":"1-layer","x":4,"y":-0.0105},
   {"z":"Z₅","l":"1-layer","x":0,"y":-0.0385},{"z":"Z₅","l":"1-layer","x":0.4,"y":-0.0466},{"z":"Z₅","l":"1-layer","x":0.8,"y":-0.0623},{"z":"Z₅","l":"1-layer","x":1.2,"y":-0.1428},{"z":"Z₅","l":"1-layer","x":1.6,"y":-0.126},{"z":"Z₅","l":"1-layer","x":2,"y":-0.0833},{"z":"Z₅","l":"1-layer","x":2.4,"y":-0.0518},{"z":"Z₅","l":"1-layer","x":2.8,"y":-0.031},{"z":"Z₅","l":"1-layer","x":3.2,"y":-0.0197},{"z":"Z₅","l":"1-layer","x":3.6,"y":-0.014},{"z":"Z₅","l":"1-layer","x":4,"y":-0.0105},
   {"z":"Z₆","l":"1-layer","x":0,"y":-0.0378},{"z":"Z₆","l":"1-layer","x":0.4,"y":-0.046},{"z":"Z₆","l":"1-layer","x":0.8,"y":-0.0605},{"z":"Z₆","l":"1-layer","x":1.2,"y":-0.141},{"z":"Z₆","l":"1-layer","x":1.6,"y":-0.1236},{"z":"Z₆","l":"1-layer","x":2,"y":-0.081},{"z":"Z₆","l":"1-layer","x":2.4,"y":-0.05},{"z":"Z₆","l":"1-layer","x":2.8,"y":-0.03},{"z":"Z₆","l":"1-layer","x":3.2,"y":-0.019},{"z":"Z₆","l":"1-layer","x":3.6,"y":-0.0135},{"z":"Z₆","l":"1-layer","x":4,"y":-0.0098},
   {"z":"Z₁","l":"2-layer","x":0,"y":-0.0056},{"z":"Z₁","l":"2-layer","x":0.4,"y":-0.0046},{"z":"Z₁","l":"2-layer","x":0.8,"y":-0.0056},{"z":"Z₁","l":"2-layer","x":1.2,"y":-0.0203},{"z":"Z₁","l":"2-layer","x":1.6,"y":-0.0186},{"z":"Z₁","l":"2-layer","x":2,"y":-0.015},{"z":"Z₁","l":"2-layer","x":2.4,"y":-0.0126},{"z":"Z₁","l":"2-layer","x":2.8,"y":-0.0098},{"z":"Z₁","l":"2-layer","x":3.2,"y":-0.0074},{"z":"Z₁","l":"2-layer","x":3.6,"y":-0.006},{"z":"Z₁","l":"2-layer","x":4,"y":-0.0046},
   {"z":"Z₂","l":"2-layer","x":0,"y":-0.0186},{"z":"Z₂","l":"2-layer","x":0.4,"y":-0.0275},{"z":"Z₂","l":"2-layer","x":0.8,"y":-0.042},{"z":"Z₂","l":"2-layer","x":1.2,"y":-0.1008},{"z":"Z₂","l":"2-layer","x":1.6,"y":-0.0955},{"z":"Z₂","l":"2-layer","x":2,"y":-0.0605},{"z":"Z₂","l":"2-layer","x":2.4,"y":-0.039},{"z":"Z₂","l":"2-layer","x":2.8,"y":-0.025},{"z":"Z₂","l":"2-layer","x":3.2,"y":-0.0165},{"z":"Z₂","l":"2-layer","x":3.6,"y":-0.012},{"z":"Z₂","l":"2-layer","x":4,"y":-0.009},
   {"z":"Z₁","l":"3-layer","x":0,"y":-0.0028},{"z":"Z₁","l":"3-layer","x":0.4,"y":0.0035},{"z":"Z₁","l":"3-layer","x":0.8,"y":0.0035},{"z":"Z₁","l":"3-layer","x":1.2,"y":-0.0273},{"z":"Z₁","l":"3-layer","x":1.6,"y":-0.0466},{"z":"Z₁","l":"3-layer","x":2,"y":-0.0273},{"z":"Z₁","l":"3-layer","x":2.4,"y":-0.0238},{"z":"Z₁","l":"3-layer","x":2.8,"y":-0.0168},{"z":"Z₁","l":"3-layer","x":3.2,"y":-0.0133},{"z":"Z₁","l":"3-layer","x":3.6,"y":-0.011},{"z":"Z₁","l":"3-layer","x":4,"y":-0.008},
   {"z":"Z₂","l":"3-layer","x":0,"y":-0.019},{"z":"Z₂","l":"3-layer","x":0.4,"y":-0.027},{"z":"Z₂","l":"3-layer","x":0.8,"y":-0.043},{"z":"Z₂","l":"3-layer","x":1.2,"y":-0.104},{"z":"Z₂","l":"3-layer","x":1.6,"y":-0.098},{"z":"Z₂","l":"3-layer","x":2,"y":-0.062},{"z":"Z₂","l":"3-layer","x":2.4,"y":-0.04},{"z":"Z₂","l":"3-layer","x":2.8,"y":-0.025},{"z":"Z₂","l":"3-layer","x":3.2,"y":-0.0165},{"z":"Z₂","l":"3-layer","x":3.6,"y":-0.012},{"z":"Z₂","l":"3-layer","x":4,"y":-0.009},
   {"z":"Z₄","l":"3-layer","x":0,"y":-0.043},{"z":"Z₄","l":"3-layer","x":0.4,"y":-0.05},{"z":"Z₄","l":"3-layer","x":0.8,"y":-0.067},{"z":"Z₄","l":"3-layer","x":1.2,"y":-0.142},{"z":"Z₄","l":"3-layer","x":1.6,"y":-0.12},{"z":"Z₄","l":"3-layer","x":2,"y":-0.08},{"z":"Z₄","l":"3-layer","x":2.4,"y":-0.049},{"z":"Z₄","l":"3-layer","x":2.8,"y":-0.03},{"z":"Z₄","l":"3-layer","x":3.2,"y":-0.0185},{"z":"Z₄","l":"3-layer","x":3.6,"y":-0.0135},{"z":"Z₄","l":"3-layer","x":4,"y":-0.0105}
  ]
 },
 "resolve": {"scale": {"x": "independent", "y": "independent"}, "axis": {"x": "independent", "y": "independent"}},
 "bounds": "flush",
 "columns": 6,
 "spacing": {"row": 14, "column": 21},
 "concat": [
  {
   "width": 217, "height": 153,
   "title": {"text": "stability w.r.t. initialization", "anchor": "middle", "frame": "group", "dx": 119.5, "offset": 8},
   "data": {"name": "a1"},
   "mark": {"type": "line", "clip": true, "interpolate": "monotone"},
   "encoding": {
    "x": {"field": "x", "type": "quantitative", "scale": {"domain": [-0.11, 4.08], "nice": false, "zero": false}, "axis": {"values": [0,0.5,1,1.5,2,2.5,3,3.5,4], "labels": false, "title": null}},
    "y": {"field": "y", "type": "quantitative", "scale": {"domain": [-0.021, 0.269], "nice": false, "zero": false}, "axis": {"values": [0,0.05,0.1,0.15,0.2,0.25], "labelExpr": "round(datum.value*20)%2==0 ? format(datum.value,'.2f') : ''", "title": "Z-X measure", "titlePadding": 8}},
    "color": {"field": "z", "type": "nominal", "scale": {"domain": ["Z₁","Z₂","Z₃","Z₄","Z₅","Z₆"], "range": ["#1f77b4","#ff7f0e","#2ca02c","#d62728","#9467bd","#8c564b"]}, "legend": {"orient": "none", "legendX": 115, "legendY": 434, "direction": "horizontal", "columns": 6, "title": null, "symbolType": "stroke", "symbolSize": 484, "symbolStrokeWidth": 1.5, "labelFontStyle": "italic", "columnPadding": 15.5, "labelOffset": 4}}
   }
  },
  {
   "width": 218, "height": 153,
   "data": {"name": "b1"},
   "encoding": {
    "x": {"field": "x", "type": "quantitative", "scale": {"domain": [-0.1, 4.12], "nice": false, "zero": false}, "axis": {"values": [0,0.5,1,1.5,2,2.5,3,3.5,4], "labels": false, "title": null}}
   },
   "layer": [
    {"mark": {"type": "area", "opacity": 0.35, "clip": true, "interpolate": "monotone"},
     "encoding": {
      "y": {"field": "lo", "type": "quantitative", "scale": {"domain": [-0.021, 0.269], "nice": false, "zero": false}, "axis": {"values": [0,0.05,0.1,0.15,0.2,0.25], "labels": false, "title": null}},
      "y2": {"field": "hi"},
      "fill": {"field": "z", "type": "nominal", "scale": {"domain": ["Z₁","Z₂","Z₃","Z₄","Z₅","Z₆"], "range": ["#1f77b4","#ff7f0e","#2ca02c","#d62728","#9467bd","#8c564b"]}, "legend": null}
     }},
    {"mark": {"type": "line", "clip": true, "interpolate": "monotone", "strokeDash": [5,3]},
     "encoding": {
      "y": {"field": "y", "type": "quantitative", "scale": {"domain": [-0.021, 0.269], "nice": false, "zero": false}, "axis": {"values": [0,0.05,0.1,0.15,0.2,0.25], "labels": false, "title": null}},
      "color": {"field": "z", "type": "nominal", "scale": {"domain": ["Z₁","Z₂","Z₃","Z₄","Z₅","Z₆"], "range": ["#1f77b4","#ff7f0e","#2ca02c","#d62728","#9467bd","#8c564b"]}}
     }}
   ]
  },
  {"width": 60, "height": 153, "view": {"stroke": null}, "data": {"values": []}, "mark": "point"},
  {
   "width": 216, "height": 153,
   "title": {"text": "stability w.r.t. estimator architecture", "anchor": "middle", "frame": "group", "dx": 143.5, "offset": 8},
   "data": {"name": "c1"},
   "mark": {"type": "line", "clip": true},
   "encoding": {
    "x": {"field": "x", "type": "quantitative", "scale": {"domain": [-0.08, 4.1], "nice": false, "zero": false}, "axis": {"values": [0,0.5,1,1.5,2,2.5,3,3.5,4], "labels": false, "title": null}},
    "y": {"field": "y", "type": "quantitative", "scale": {"domain": [-0.023, 0.261], "nice": false, "zero": false}, "axis": {"values": [0,0.05,0.1,0.15,0.2,0.25], "labelExpr": "round(datum.value*20)%2==0 ? format(datum.value,'.2f') : ''", "title": null}},
    "color": {"field": "z", "type": "nominal", "scale": {"domain": ["Z₁","Z₂","Z₃","Z₄","Z₅","Z₆"], "range": ["#1f77b4","#ff7f0e","#2ca02c","#d62728","#9467bd","#8c564b"]}},
    "strokeDash": {"field": "l", "type": "nominal", "scale": {"domain": ["1-layer","2-layer","3-layer"], "range": [[1,0],[5,3],[1.5,3]]}, "legend": {"orient": "none", "legendX": 555, "legendY": 434, "direction": "horizontal", "columns": 3, "title": null, "symbolType": "stroke", "symbolSize": 900, "symbolStrokeWidth": 1.5, "symbolStrokeColor": "#222", "columnPadding": 15, "labelOffset": 4}}
   }
  },
  {"width": 30, "height": 153, "view": {"stroke": null}, "data": {"values": []}, "mark": "point"},
  {
   "width": 215, "height": 153,
   "data": {"name": "d1"},
   "mark": {"type": "line", "clip": true},
   "encoding": {
    "x": {"field": "x", "type": "quantitative", "scale": {"domain": [-0.02, 4.1], "nice": false, "zero": false}, "axis": {"values": [0,0.5,1,1.5,2,2.5,3,3.5,4], "labels": false, "title": null}},
    "y": {"field": "y", "type": "quantitative", "scale": {"domain": [-0.0018, 0.0099], "nice": false, "zero": false}, "axis": {"values": [0,0.002,0.004,0.006,0.008], "labelExpr": "round(datum.value*500)%2==0 ? format(datum.value,'.3f') : ''", "title": null}},
    "color": {"field": "z", "type": "nominal", "scale": {"domain": ["Z₁","Z₂","Z₃","Z₄","Z₅","Z₆"], "range": ["#1f77b4","#ff7f0e","#2ca02c","#d62728","#9467bd","#8c564b"]}},
    "strokeDash": {"field": "l", "type": "nominal", "scale": {"domain": ["1-layer","2-layer","3-layer"], "range": [[1,0],[5,3],[1.5,3]]}}
   }
  },
  {
   "width": 217, "height": 155,
   "title": {"text": "(a)", "orient": "bottom", "anchor": "middle", "frame": "group", "offset": 0},
   "data": {"name": "a2"},
   "mark": {"type": "line", "clip": true, "interpolate": "monotone"},
   "encoding": {
    "x": {"field": "x", "type": "quantitative", "scale": {"domain": [-0.11, 4.08], "nice": false, "zero": false}, "axis": {"values": [0,0.5,1,1.5,2,2.5,3,3.5,4], "labelExpr": "datum.value % 1 == 0 ? format(datum.value,'d') : ''", "title": "subject network epoch (×1000)", "titleX": 228, "titlePadding": 2}},
    "y": {"field": "y", "type": "quantitative", "scale": {"domain": [-0.029, 0.616], "nice": false, "zero": false}, "axis": {"values": [0,0.1,0.2,0.3,0.4,0.5,0.6], "labelExpr": "round(datum.value*10)%2==0 ? format(datum.value,'.1f') : ''", "title": "Z-Y measure", "titlePadding": 8}},
    "color": {"field": "z", "type": "nominal", "scale": {"domain": ["Z₁","Z₂","Z₃","Z₄","Z₅","Z₆"], "range": ["#1f77b4","#ff7f0e","#2ca02c","#d62728","#9467bd","#8c564b"]}}
   }
  },
  {
   "width": 218, "height": 155,
   "title": {"text": "(b)", "orient": "bottom", "anchor": "middle", "frame": "group", "offset": 0},
   "data": {"name": "b2"},
   "encoding": {
    "x": {"field": "x", "type": "quantitative", "scale": {"domain": [-0.1, 4.12], "nice": false, "zero": false}, "axis": {"values": [0,0.5,1,1.5,2,2.5,3,3.5,4], "labelExpr": "datum.value % 1 == 0 ? format(datum.value,'d') : ''", "title": " ", "titlePadding": 2}}
   },
   "layer": [
    {"mark": {"type": "area", "opacity": 0.35, "clip": true, "interpolate": "monotone"},
     "encoding": {
      "y": {"field": "lo", "type": "quantitative", "scale": {"domain": [-0.029, 0.616], "nice": false, "zero": false}, "axis": {"values": [0,0.1,0.2,0.3,0.4,0.5,0.6], "labels": false, "title": null}},
      "y2": {"field": "hi"},
      "fill": {"field": "z", "type": "nominal", "scale": {"domain": ["Z₁","Z₂","Z₃","Z₄","Z₅","Z₆"], "range": ["#1f77b4","#ff7f0e","#2ca02c","#d62728","#9467bd","#8c564b"]}, "legend": null}
     }},
    {"mark": {"type": "line", "clip": true, "interpolate": "monotone", "strokeDash": [5,3]},
     "encoding": {
      "y": {"field": "y", "type": "quantitative", "scale": {"domain": [-0.029, 0.616], "nice": false, "zero": false}, "axis": {"values": [0,0.1,0.2,0.3,0.4,0.5,0.6], "labels": false, "title": null}},
      "color": {"field": "z", "type": "nominal", "scale": {"domain": ["Z₁","Z₂","Z₃","Z₄","Z₅","Z₆"], "range": ["#1f77b4","#ff7f0e","#2ca02c","#d62728","#9467bd","#8c564b"]}}
     }}
   ]
  },
  {"width": 60, "height": 155, "view": {"stroke": null}, "data": {"values": []}, "mark": "point"},
  {
   "width": 216, "height": 155,
   "title": {"text": "(c)", "orient": "bottom", "anchor": "middle", "frame": "group", "offset": 0},
   "data": {"name": "c2"},
   "mark": {"type": "line", "clip": true},
   "encoding": {
    "x": {"field": "x", "type": "quantitative", "scale": {"domain": [-0.08, 4.1], "nice": false, "zero": false}, "axis": {"values": [0,0.5,1,1.5,2,2.5,3,3.5,4], "labelExpr": "datum.value % 1 == 0 ? format(datum.value,'d') : ''", "title": "subject network epoch (×1000)", "titleX": 250.5, "titlePadding": 2}},
    "y": {"field": "y", "type": "quantitative", "scale": {"domain": [-0.038, 0.607], "nice": false, "zero": false}, "axis": {"values": [0,0.1,0.2,0.3,0.4,0.5,0.6], "labelExpr": "round(datum.value*10)%2==0 ? format(datum.value,'.1f') : ''", "title": null}},
    "color": {"field": "z", "type": "nominal", "scale": {"domain": ["Z₁","Z₂","Z₃","Z₄","Z₅","Z₆"], "range": ["#1f77b4","#ff7f0e","#2ca02c","#d62728","#9467bd","#8c564b"]}},
    "strokeDash": {"field": "l", "type": "nominal", "scale": {"domain": ["1-layer","2-layer","3-layer"], "range": [[1,0],[5,3],[1.5,3]]}}
   }
  },
  {"width": 30, "height": 155, "view": {"stroke": null}, "data": {"values": []}, "mark": "point"},
  {
   "width": 215, "height": 155,
   "title": {"text": "(d)", "orient": "bottom", "anchor": "middle", "frame": "group", "offset": 0},
   "data": {"name": "d2"},
   "mark": {"type": "line", "clip": true},
   "encoding": {
    "x": {"field": "x", "type": "quantitative", "scale": {"domain": [-0.02, 4.1], "nice": false, "zero": false}, "axis": {"values": [0,0.5,1,1.5,2,2.5,3,3.5,4], "labelExpr": "datum.value % 1 == 0 ? format(datum.value,'d') : ''", "title": " ", "titlePadding": 2}},
    "y": {"field": "y", "type": "quantitative", "scale": {"domain": [-0.1515, 0.0087], "nice": false, "zero": false}, "axis": {"values": [-0.14,-0.12,-0.1,-0.08,-0.06,-0.04,-0.02,0], "labelExpr": "round(datum.value*50)%2==0 ? replace(format(datum.value,'.2f'),'−','-') : ''", "title": null}},
    "color": {"field": "z", "type": "nominal", "scale": {"domain": ["Z₁","Z₂","Z₃","Z₄","Z₅","Z₆"], "range": ["#1f77b4","#ff7f0e","#2ca02c","#d62728","#9467bd","#8c564b"]}},
    "strokeDash": {"field": "l", "type": "nominal", "scale": {"domain": ["1-layer","2-layer","3-layer"], "range": [[1,0],[5,3],[1.5,3]]}}
   }
  }
 ]
}
